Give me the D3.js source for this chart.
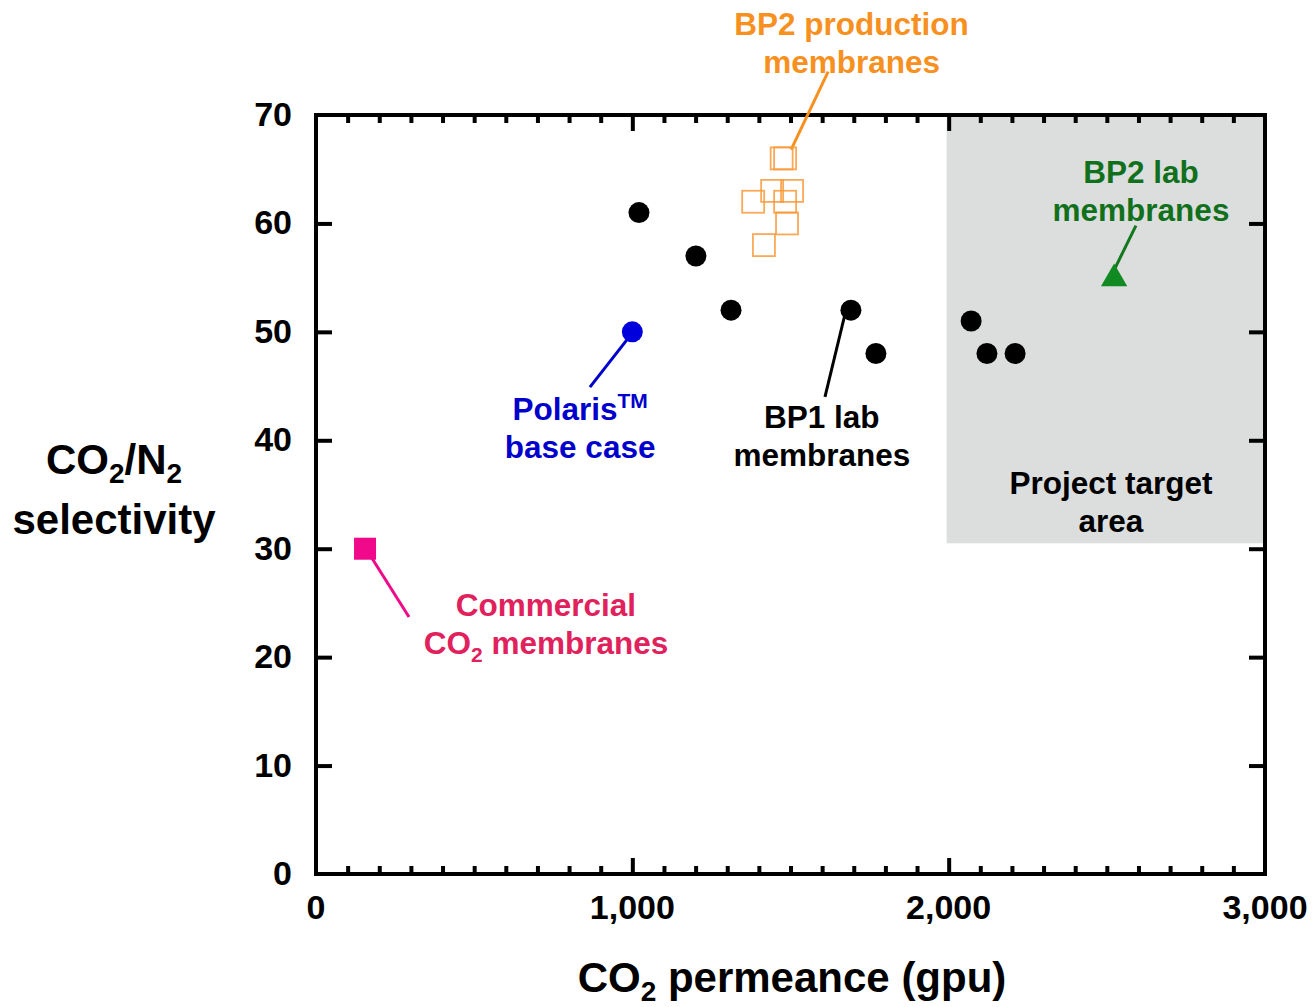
<!DOCTYPE html>
<html>
<head>
<meta charset="utf-8">
<script src="https://cdn.jsdelivr.net/npm/d3@7"></script>
<style>
  body { margin: 0; background: #fff; }
  text { font-family: "Liberation Sans", Arial, sans-serif; font-weight: bold; }
</style>
</head>
<body>
<svg id="chart" width="1312" height="1007"></svg>
<script>
// values: [permeance gpu, selectivity]
const bp1Lab = [[1021, 61], [1201, 57], [1312, 52], [1691, 52], [1770, 48], [2071, 51], [2121, 48], [2210, 48]];
const bp2Production = [[1483, 66], [1472, 66], [1442, 63], [1505, 63], [1382, 62], [1483, 62], [1489, 60], [1416, 58]];
const polarisBase = [[1000, 50]];
const commercial = [[155, 30]];
const bp2Lab = [[2523, 55]];
const targetArea = {x0: 2000, x1: 3000, y0: 30.5, y1: 70};

const xTicks = [0, 1000, 2000, 3000];
const yTicks = [0, 10, 20, 30, 40, 50, 60, 70];

// leader lines [x1, y1, x2, y2] in data units
const leaders = [
  {c: "#f7901e", p: [1502, 66.8, 1619, 74.0]},
  {c: "#0000cc", p: [1000, 49.9, 866, 44.9]},
  {c: "#000000", p: [1672, 51.6, 1609, 44.0]},
  {c: "#11781c", p: [2523, 55.7, 2592, 59.8]},
  {c: "#ee0a88", p: [171, 29.4, 294, 23.7]}
];

var svg = d3.select("#chart");
const marginLeft = 316, marginTop = 115, width = 949, height = 759;

var x = d3.scaleLinear().domain([0, 3000]).range([0, width]);
var y = d3.scaleLinear().domain([0, 70]).range([height, 0]);

var g = svg.append("g").attr("transform", "translate(" + marginLeft + "," + marginTop + ")");

// shaded target
g.append("rect")
  .attr("x", x(targetArea.x0) - 2)
  .attr("y", y(targetArea.y1))
  .attr("width", x(targetArea.x1) - x(targetArea.x0) + 2)
  .attr("height", y(targetArea.y0) - y(targetArea.y1))
  .attr("fill", "#dcdede");

// axes, ticks pointing inward
var minor = d3.range(0, 3001, 100).filter(d => d % 1000 != 0 && d < 3000);
function tickStyle(sel) {
  sel.select(".domain").remove();
  sel.selectAll("line").attr("stroke", "#000").attr("stroke-width", 4);
  sel.selectAll("text").remove();
}
g.append("g").attr("transform", "translate(0," + height + ")")
  .call(d3.axisBottom(x).tickValues(minor).tickSize(-8)).call(tickStyle);
g.append("g").attr("transform", "translate(0," + height + ")")
  .call(d3.axisBottom(x).tickValues(xTicks.slice(1, 3)).tickSize(-16)).call(tickStyle);
g.append("g")
  .call(d3.axisTop(x).tickValues(minor).tickSize(-8)).call(tickStyle);
g.append("g")
  .call(d3.axisTop(x).tickValues(xTicks.slice(1, 3)).tickSize(-16)).call(tickStyle);
g.append("g")
  .call(d3.axisLeft(y).tickValues(yTicks.slice(1, -1)).tickSize(-16)).call(tickStyle);
g.append("g").attr("transform", "translate(" + width + ",0)")
  .call(d3.axisRight(y).tickValues(yTicks.slice(1, -1)).tickSize(-16)).call(tickStyle);

g.append("rect")
  .attr("width", width).attr("height", height)
  .attr("fill", "none").attr("stroke", "#000").attr("stroke-width", 4);

// tick labels
g.selectAll(".xl").data(xTicks).enter().append("text")
  .attr("x", d => x(d)).attr("y", height + 45)
  .attr("text-anchor", "middle").attr("font-size", 34)
  .text(d => d3.format(",")(d));
g.selectAll(".yl").data(yTicks).enter().append("text")
  .attr("x", -24).attr("y", d => y(d) + 11)
  .attr("text-anchor", "end").attr("font-size", 34)
  .text(d => d);

// leader lines
g.selectAll(".leader").data(leaders).enter().append("line")
  .attr("x1", d => x(d.p[0])).attr("y1", d => y(d.p[1]))
  .attr("x2", d => x(d.p[2])).attr("y2", d => y(d.p[3]))
  .attr("stroke", d => d.c).attr("stroke-width", 3);

// markers
g.selectAll(".bp2p").data(bp2Production).enter().append("rect")
  .attr("x", d => x(d[0]) - 11).attr("y", d => y(d[1]) - 11)
  .attr("width", 22).attr("height", 22)
  .attr("fill", "none").attr("stroke", "#f99a3a").attr("stroke-width", 1.8)
  .attr("stroke-opacity", 0.85);
g.selectAll(".bp1").data(bp1Lab).enter().append("circle")
  .attr("cx", d => x(d[0])).attr("cy", d => y(d[1])).attr("r", 10.5)
  .attr("fill", "#000");
g.selectAll(".pol").data(polarisBase).enter().append("circle")
  .attr("cx", d => x(d[0])).attr("cy", d => y(d[1])).attr("r", 10.5)
  .attr("fill", "#0000dd");
g.selectAll(".com").data(commercial).enter().append("rect")
  .attr("x", d => x(d[0]) - 11).attr("y", d => y(d[1]) - 11)
  .attr("width", 22).attr("height", 22)
  .attr("fill", "#f0098a");
g.selectAll(".bp2l").data(bp2Lab).enter().append("path")
  .attr("d", d3.symbol().type(d3.symbolTriangle).size(300))
  .attr("transform", d => "translate(" + x(d[0]) + "," + (y(d[1]) + 1) + ")")
  .attr("fill", "#128a22");

// annotations
function label(lines, px, py, color) {
  var t = g.append("text")
    .attr("text-anchor", "middle").attr("font-size", 31.5).attr("fill", color);
  lines.forEach(function(parts, i) {
    var line = t.append("tspan").attr("x", x(px)).attr("y", y(py) + i * 38);
    var back = 0;
    parts.forEach(function(p) {
      if (typeof p == "string") {
        line.append("tspan").attr("dy", back).text(p);
        back = 0;
      } else if (p.sub) {
        line.append("tspan").attr("font-size", 21).attr("dy", 8).text(p.sub);
        back = -8;
      } else if (p.sup) {
        line.append("tspan").attr("font-size", 21).attr("dy", -12).text(p.sup);
        back = 12;
      }
    });
  });
}
label([["BP2 production"], ["membranes"]], 1693, 77.4, "#f7901e");
label([["BP2 lab"], ["membranes"]], 2608, 63.7, "#11701c");
label([["Polaris", {sup: "TM"}], ["base case"]], 835, 41.9, "#0000cc");
label([["BP1 lab"], ["membranes"]], 1599, 41.1, "#000");
label([["Project target"], ["area"]], 2513, 35.05, "#000");
label([["Commercial"], ["CO", {sub: "2"}, " membranes"]], 727, 23.8, "#e0215c");

// axis titles
var xt = svg.append("text").attr("x", 792).attr("y", 992)
  .attr("text-anchor", "middle").attr("font-size", 42);
xt.append("tspan").text("CO");
xt.append("tspan").attr("font-size", 28).attr("dy", 9).text("2");
xt.append("tspan").attr("dy", -9).text(" permeance (gpu)");

var yt = svg.append("text").attr("text-anchor", "middle").attr("font-size", 42);
var l1 = yt.append("tspan").attr("x", 114).attr("y", 474);
l1.append("tspan").text("CO");
l1.append("tspan").attr("font-size", 28).attr("dy", 9).text("2");
l1.append("tspan").attr("dy", -9).text("/N");
l1.append("tspan").attr("font-size", 28).attr("dy", 9).text("2");
yt.append("tspan").attr("x", 114).attr("y", 534).text("selectivity");
</script>
</body>
</html>
